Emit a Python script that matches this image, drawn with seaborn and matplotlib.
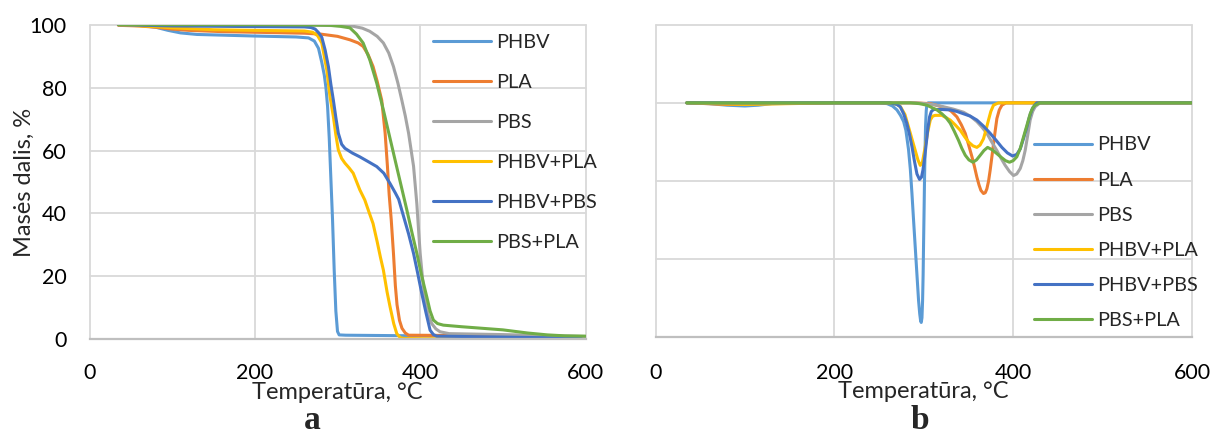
import numpy as np
import pandas as pd
import matplotlib
matplotlib.use("Agg")
import matplotlib.pyplot as plt
import seaborn as sns

# ---------------- data ----------------
series = ["PHBV", "PLA", "PBS", "PHBV+PLA", "PHBV+PBS", "PBS+PLA"]
colors = ["#5B9BD5", "#ED7D31", "#A5A5A5", "#FFC000", "#4472C4", "#70AD47"]

# (a) TGA: mass fraction, %
tga_phbv_T = [35, 60, 80, 95, 110, 130, 200, 250, 265, 272, 277, 281, 284, 286, 288, 290, 292, 294, 296, 298, 300, 302, 310, 400, 500, 600]
tga_phbv_m = [100, 99.8, 99.2, 98.2, 97.4, 96.9, 96.4, 96.1, 95.8, 94.8, 92.5, 88, 84, 80, 74, 64, 51, 38, 22, 9, 2.5, 1.4, 1.3, 1.1, 0.9, 0.7]

tga_pla_T = [35, 60, 80, 100, 120, 160, 200, 260, 280, 300, 315, 325, 331, 337, 343, 348, 353.5, 357.6, 360.4, 362.5, 365, 367.7, 370, 372, 375, 378, 382, 386, 450, 600]
tga_pla_m = [99.8, 99.6, 99.2, 98.6, 98.2, 97.8, 97.6, 97.3, 97.0, 96.3, 95.2, 94.2, 93.1, 90.5, 86.7, 82, 76, 65.6, 55, 46, 38, 27.3, 17, 11, 6, 3.5, 2, 1.3, 1.2, 0.8]

tga_pbs_T = [35, 200, 280, 300, 319, 330, 339, 348, 355.5, 362, 367.7, 373, 377.8, 382, 386, 392, 394, 396, 398, 400, 403, 406, 410, 414, 419, 424, 435, 500, 600]
tga_pbs_m = [100, 99.9, 99.8, 99.7, 99.5, 98.9, 97.9, 96.3, 94.2, 91, 86.7, 81.5, 76, 71, 65.5, 55, 49, 43, 35, 27.3, 19, 12.4, 7.5, 5, 3.3, 2.4, 1.8, 1.5, 0.9]

tga_phbvpla_T = [35, 80, 100, 150, 200, 260, 270, 276, 281, 287, 291, 295, 298, 301, 305, 309, 314, 319, 327, 333, 338, 343, 348, 352, 355.5, 360, 363.6, 368, 371.7, 376, 380, 400, 450]
tga_phbvpla_m = [100, 99.4, 99, 98.4, 98.2, 98, 97.6, 96.5, 94.2, 85.7, 77, 70.8, 65, 60.2, 57.5, 56, 54.5, 52.8, 47.5, 44.3, 40.5, 36.8, 31, 26, 22, 15, 10.3, 5, 1.8, 0.5, 0.3, 0.2, 0.1]

tga_phbvpbs_T = [35, 100, 200, 260, 268, 273, 277, 281, 285, 289, 292, 295, 298, 301, 305, 309, 318, 327, 337, 347.5, 356, 363.6, 370, 374, 380, 386, 392, 397, 402, 407, 412, 416, 420, 450, 500, 550, 595]
tga_phbvpbs_m = [100, 99.6, 99.4, 99.3, 99.1, 98.6, 97.5, 96, 92, 86.7, 81, 76, 70.5, 65.5, 62, 60.7, 59.2, 58, 56.5, 54.9, 52.8, 49.5, 46.5, 44.5, 39, 33.5, 27.3, 21, 14.5, 8.5, 2.9, 1.5, 1, 0.9, 0.7, 0.5, 0.2]

tga_pbspla_T = [35, 200, 270, 291, 303, 315, 323, 331, 339, 347.5, 355.5, 363.6, 371.7, 377.8, 383.8, 390, 396, 402, 408, 412, 416, 421, 428, 450, 470, 500, 530, 554, 575, 600]
tga_pbspla_m = [100, 100, 99.9, 99.8, 99.5, 99, 97, 94.2, 88.9, 81.4, 72.9, 63.8, 54.7, 47.9, 41.2, 34, 27.3, 20, 13.5, 9, 6.1, 5, 4.5, 4, 3.6, 3, 2, 1.4, 1.1, 1.0]

# (b) DTG (arbitrary units, y tick labels hidden)
dtg_phbv_T = [35, 60, 80, 100, 115, 130, 200, 250, 259, 265, 270, 274, 277.5, 280, 283, 285, 286.8, 288.6, 290.5, 292.4, 294.2, 295.5, 296.5, 297.2, 298, 298.7, 299.3, 299.8, 300.4, 300.9, 301.5, 302, 302.8, 303.5, 305, 400, 600]
dtg_phbv_v = [0, -0.01, -0.03, -0.04, -0.03, -0.01, 0, 0, -0.01, -0.04, -0.09, -0.16, -0.24, -0.35, -0.6, -0.85, -1.16, -1.5, -1.85, -2.2, -2.53, -2.7, -2.79, -2.81, -2.75, -2.53, -2.2, -1.8, -1.35, -0.95, -0.6, -0.3, -0.1, -0.02, 0, 0, 0]

dtg_pla_T = [35, 80, 100, 120, 200, 290, 307.3, 317, 325.9, 331, 337.1, 342, 346.4, 350, 353.9, 356.8, 359.4, 361.8, 363.9, 366.8, 368.8, 370.6, 372.5, 374.3, 376.2, 378.1, 380, 381.8, 384.5, 387.4, 392, 600]
dtg_pla_v = [0, -0.02, -0.02, -0.01, 0, 0, -0.01, -0.04, -0.07, -0.11, -0.18, -0.28, -0.39, -0.53, -0.69, -0.82, -0.95, -1.05, -1.12, -1.16, -1.15, -1.10, -1.0, -0.86, -0.69, -0.52, -0.35, -0.2, -0.09, -0.03, 0, 0]

dtg_pbs_T = [35, 200, 292, 310, 322.1, 333, 344.5, 352, 359.4, 365, 370.6, 376, 381.8, 386.5, 391.1, 396, 400.4, 404, 407.9, 410.8, 413.4, 416.2, 419, 421.8, 424.6, 430, 600]
dtg_pbs_v = [0, 0, 0, -0.02, -0.05, -0.08, -0.12, -0.17, -0.24, -0.31, -0.39, -0.5, -0.61, -0.71, -0.80, -0.88, -0.93, -0.91, -0.84, -0.74, -0.61, -0.42, -0.22, -0.11, -0.05, 0, 0]

dtg_phbvpla_T = [35, 100, 200, 262, 270, 274, 279, 283, 287, 290.5, 293.5, 296.1, 298.5, 301.7, 304.5, 307.3, 310, 312.8, 320.3, 329.6, 335, 340.8, 345.5, 350, 355, 359.4, 363, 366.8, 369.5, 372.4, 375, 378, 383.6, 450, 600]
dtg_phbvpla_v = [0, -0.02, 0, 0, -0.02, -0.05, -0.15, -0.31, -0.47, -0.61, -0.73, -0.80, -0.76, -0.56, -0.37, -0.22, -0.17, -0.16, -0.16, -0.22, -0.28, -0.35, -0.43, -0.5, -0.55, -0.57, -0.54, -0.46, -0.35, -0.22, -0.11, -0.03, 0, 0, 0]

dtg_phbvpbs_T = [35, 200, 262, 270, 273.7, 277.5, 281, 284, 286.8, 289.5, 292.4, 295.3, 297.5, 299.1, 301, 302.8, 304.5, 306.5, 308.5, 311, 320, 329.6, 337, 344.5, 352, 359.4, 367, 374.3, 381, 387.4, 393.5, 399.3, 404, 407.9, 411.5, 415.3, 418, 420.9, 424, 426.5, 500, 600]
dtg_phbvpbs_v = [0, 0, 0, -0.02, -0.05, -0.14, -0.26, -0.4, -0.56, -0.74, -0.91, -0.98, -0.95, -0.86, -0.7, -0.52, -0.34, -0.18, -0.11, -0.085, -0.085, -0.09, -0.11, -0.14, -0.17, -0.22, -0.3, -0.39, -0.48, -0.57, -0.64, -0.68, -0.66, -0.59, -0.46, -0.31, -0.19, -0.09, -0.03, 0, 0, 0]

dtg_pbspla_T = [35, 200, 285, 295, 303.5, 309, 314.7, 320.3, 325, 329.6, 334, 338.9, 342.5, 346.4, 350.5, 355, 359, 363.2, 367.3, 371.4, 376.5, 381.8, 387, 391.5, 395.9, 400, 404.1, 408, 411.5, 415.3, 419, 422, 424.6, 430, 600]
dtg_pbspla_v = [0, 0, 0, -0.01, -0.03, -0.06, -0.09, -0.14, -0.19, -0.26, -0.36, -0.48, -0.58, -0.67, -0.73, -0.76, -0.73, -0.67, -0.61, -0.57, -0.60, -0.65, -0.7, -0.74, -0.76, -0.74, -0.69, -0.58, -0.44, -0.29, -0.14, -0.06, -0.03, 0, 0]

x_ticks = [0, 200, 400, 600]
y_ticks_a = [0, 20, 40, 60, 80, 100]
y_ticks_b = [-3, -2, -1, 0, 1]
xlabel = "Temperatūra, °C"
ylabel_a = "Masės dalis, %"
panel_labels = ["a", "b"]

# ---------------- frames ----------------
tga = [(tga_phbv_T, tga_phbv_m), (tga_pla_T, tga_pla_m), (tga_pbs_T, tga_pbs_m),
       (tga_phbvpla_T, tga_phbvpla_m), (tga_phbvpbs_T, tga_phbvpbs_m), (tga_pbspla_T, tga_pbspla_m)]
dtg = [(dtg_phbv_T, dtg_phbv_v), (dtg_pla_T, dtg_pla_v), (dtg_pbs_T, dtg_pbs_v),
       (dtg_phbvpla_T, dtg_phbvpla_v), (dtg_phbvpbs_T, dtg_phbvpbs_v), (dtg_pbspla_T, dtg_pbspla_v)]

def frame(pairs):
    rows = []
    for name, (t, v) in zip(series, pairs):
        rows.append(pd.DataFrame({"T": t, "v": v, "series": name}))
    return pd.concat(rows, ignore_index=True)

df_a = frame(tga)
df_b = frame(dtg)

# ---------------- style ----------------
sns.set_style("white")
plt.rcParams["font.family"] = ["Lato", "DejaVu Sans"]

fig = plt.figure(figsize=(12.13, 4.37), dpi=100)
W, H = 1213, 437
ax_a = fig.add_axes([89.5 / W, 1 - 339.3 / H, (585.5 - 89.5) / W, (339.3 - 24.7) / H])
ax_b = fig.add_axes([655.5 / W, 1 - 337.3 / H, (1192 - 655.5) / W, (337.3 - 24.7) / H])

palette = dict(zip(series, colors))
grid_c = "#D9D9D9"
axis_c = "#BFBFBF"

for ax, df in ((ax_a, df_a), (ax_b, df_b)):
    sns.lineplot(data=df, x="T", y="v", hue="series", hue_order=series, palette=palette,
                 sort=False, estimator=None, units="series", linewidth=2.2, ax=ax, legend=True)
    ax.set_xlim(0, 600)
    ax.set_xticks(x_ticks)
    ax.grid(True, color=grid_c, linewidth=1.3)
    ax.set_axisbelow(True)
    for s in ("top", "right", "left"):
        ax.spines[s].set_visible(False)
    ax.spines["bottom"].set_color(axis_c)
    ax.spines["bottom"].set_linewidth(1.6)
    for gl in ax.get_xgridlines() + ax.get_ygridlines():
        gl.set_clip_on(False)

# panel a
ax_a.set_ylim(0, 100)
ax_a.set_yticks(y_ticks_a)
ax_a.tick_params(axis="x", length=0, pad=17, labelsize=15.5, colors="black")
ax_a.tick_params(axis="y", length=0, pad=16.5, labelsize=15.5, colors="black")
ax_a.set_xlabel(xlabel, fontsize=17)
ax_a.set_ylabel(ylabel_a, fontsize=17)
ax_a.xaxis.set_label_coords(0.5, -0.135)
ax_a.yaxis.set_label_coords(-0.111, 0.5)

# panel b
ax_b.set_ylim(-3, 1)
ax_b.set_yticks(y_ticks_b)
ax_b.set_yticklabels([])
ax_b.tick_params(axis="y", length=0)
ax_b.tick_params(axis="x", length=7, width=1.3, color=axis_c, direction="out", pad=11.5,
                 labelsize=15.5, colors="black")
ax_b.tick_params(axis="x", color=axis_c)
ax_b.set_xlabel(xlabel, fontsize=17)
ax_b.set_ylabel("")
ax_b.xaxis.set_label_coords(0.5, -0.14)

# legends
for ax, top_px, left_px, spacing in ((ax_a, 33.5, 433, 1.16), (ax_b, 136.5, 1034, 0.91)):
    h, l = ax.get_legend_handles_labels()
    old = ax.get_legend()
    if old is not None:
        old.remove()
    leg = ax.legend(h, l, loc="upper left", bbox_to_anchor=(left_px / W, 1 - top_px / H),
                    bbox_transform=fig.transFigure, frameon=False, borderpad=0, borderaxespad=0,
                    handlelength=2.9, handletextpad=0.3, labelspacing=spacing, fontsize=14.3)
    for ln in leg.get_lines():
        ln.set_linewidth(2.2)

# panel letters
fig.text(312 / W, 1 - 429 / H, panel_labels[0], ha="center", va="baseline",
         fontsize=24, fontweight="bold", family="Liberation Serif")
fig.text(920 / W, 1 - 429 / H, panel_labels[1], ha="center", va="baseline",
         fontsize=24, fontweight="bold", family="Liberation Serif")

fig.savefig("out.png", dpi=100)
